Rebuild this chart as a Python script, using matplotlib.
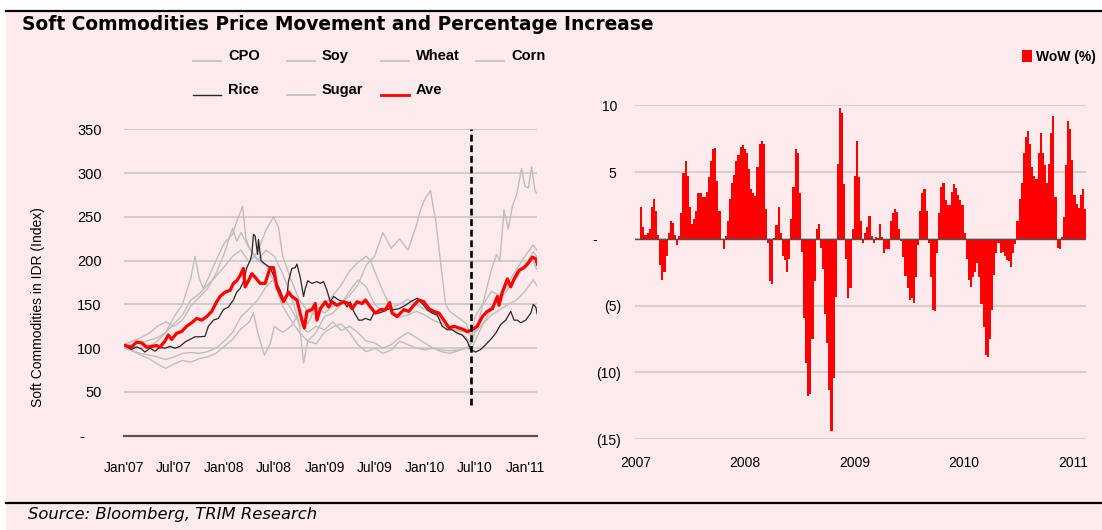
import numpy as np
import pandas as pd
import matplotlib
matplotlib.use('Agg')
import matplotlib.pyplot as plt
from matplotlib.lines import Line2D
from matplotlib.patches import Rectangle

W, H = 1102, 530
PINK = '#FDEBEB'
GREY = '#BEBEBE'
SANS = ['Liberation Sans', 'DejaVu Sans']

# ---- left chart: index levels (month offset from Jan 2007, value) ----
ave_m = [0.16, 0.9, 1.5, 2.1, 2.7, 3.3, 3.9, 4.3, 4.9, 5.3, 5.7, 6.3, 6.9, 7.5, 8.1, 8.7, 9.3, 9.9,
         10.5, 11.1, 11.5, 12.1, 12.7, 13.1, 13.5, 13.9, 14.3, 14.5, 14.9, 15.3, 15.7, 16.3, 16.9,
         17.5, 17.9, 18.3, 19.1, 19.7, 20.1, 20.7, 21.3, 21.6, 21.9, 22.5, 22.9, 23.1, 23.5, 24.1,
         24.5, 24.9, 25.5, 26.3, 26.9, 27.3, 27.9, 28.5, 28.9, 29.5, 30.1, 30.7, 31.3, 31.8, 32.1,
         32.7, 33.5, 34.1, 34.7, 35.3, 35.9, 36.5, 37.1, 37.7, 38.3, 38.9, 39.5, 40.1, 40.7, 41.1,
         41.7, 42.3, 42.9, 43.5, 44.1, 44.7, 44.9, 45.3, 45.9, 46.3, 46.7, 47.3, 47.9, 48.3, 48.9,
         49.3, 49.5]
ave_v = [103, 101, 107, 106, 101, 102, 103, 101, 108, 115, 110, 117, 119, 125, 129, 134, 132, 136,
         142, 153, 159, 164, 166, 174, 177, 183, 191, 170, 177, 185, 181, 174, 174,
         192, 192, 170, 153, 164, 159, 155, 132, 123, 142, 144, 151, 132, 145, 153,
         147, 153, 149, 153, 151, 145, 153, 151, 155, 147, 140, 144, 144, 152, 140,
         136, 144, 142, 149, 155, 153, 145, 142, 140, 132, 123, 125, 123, 121, 119,
         121, 125, 136, 142, 145, 159, 149, 164, 179, 170, 179, 189, 192, 196, 204,
         202, 196]

rice_m = [0.2, 0.9, 1.5, 2.1, 2.5, 3.1, 3.7, 4.3, 4.9, 5.5, 6.1, 6.7, 7.3, 7.9, 8.5, 9.1, 9.7, 10.1,
          10.7, 11.3, 11.9, 12.5, 13.1, 13.5, 13.9, 14.3, 14.7, 15.1, 15.3, 15.5, 15.7, 16.0, 16.1,
          16.4, 16.9, 17.5, 17.9, 18.3, 18.7, 19.1, 19.5, 19.7, 20.1, 20.5, 20.7, 21.1, 21.5, 21.7,
          22.0, 22.5, 23.1, 23.5, 23.9, 24.3, 24.7, 25.1, 25.7, 26.3, 26.7, 27.1, 27.5, 28.1, 28.5,
          28.9, 29.5, 29.9, 30.5, 31.1, 31.7, 32.3, 32.9, 33.7, 34.3, 35.1, 35.7, 36.3, 36.9, 37.5,
          38.1, 38.7, 39.3, 39.9, 40.5, 41.1, 41.5, 42.1, 42.7, 43.3, 43.9, 44.5, 45.1, 45.7, 46.3,
          46.7, 47.1, 47.5, 48.1, 48.7, 49.0, 49.3, 49.5]
rice_v = [102, 98.5, 101.5, 99, 95.5, 100, 96.6, 101, 100, 102, 100, 102, 107, 110, 113, 113, 113.5, 125,
          132, 134, 144, 147, 155, 164, 168, 176, 192, 200, 207, 230, 228, 207, 224,
          200, 196, 192, 183, 174, 166, 155, 159, 177, 191, 192, 196, 181, 159, 168,
          177, 174, 176, 174, 176, 166, 153, 159, 155, 153, 147, 153, 142, 132, 132,
          134, 132, 140, 140, 142, 145, 144, 145, 149, 153, 157, 151, 144, 140, 138,
          125, 121, 121, 117, 115, 108, 98.5, 95.5, 98.5, 104, 110, 117, 127, 132, 142,
          132, 132, 129, 132, 140, 150, 147, 138]

cpo_m = [0, 1, 2, 3, 4, 5, 6, 7, 8, 9, 10, 11, 12, 13, 13.5, 14, 15, 16, 17, 18, 19, 20, 21, 21.5,
         22, 23, 24, 25, 26, 27, 28, 29, 30, 31, 32, 33, 34, 35, 36, 37, 38, 39, 40, 41, 41.6, 42,
         43, 44, 45, 46, 47, 48, 49, 49.4]
cpo_v = [104, 108, 112, 117, 125, 130, 125, 132, 148, 158, 168, 185, 208, 237, 222, 232, 214, 200,
         212, 205, 185, 160, 128, 83, 108, 118, 136, 140, 150, 165, 178, 170, 150, 142, 146, 150,
         156, 150, 144, 140, 132, 125, 118, 112, 106, 118, 128, 145, 160, 175, 190, 205, 218, 212]

soy_m = [0, 1, 2, 3, 4, 5, 6, 7, 8, 9, 10, 11, 12, 13, 14, 15, 16, 17, 17.9, 18.5, 19, 20, 21, 22,
         23, 24, 25, 26, 27, 28, 29, 29.5, 30, 31, 32, 33, 34, 35, 36, 37, 38, 39, 40, 41, 41.6,
         42, 43, 44, 45, 46, 47, 48, 49, 49.4]
soy_v = [102, 104, 106, 109, 112, 118, 128, 138, 155, 162, 172, 182, 193, 205, 212, 198, 210, 235,
         250, 238, 205, 178, 155, 142, 138, 150, 160, 172, 188, 198, 205, 200, 188, 165, 145, 135,
         138, 142, 138, 132, 128, 122, 120, 118, 115, 125, 138, 148, 155, 168, 180, 195, 210, 205]

wheat_m = [0, 1, 2, 3, 4, 5, 6, 7, 8, 8.5, 9, 9.5, 10, 11, 12, 13, 13.5, 14.2, 14.6, 15, 16, 17,
           18, 19, 20, 21, 22, 23, 24, 25, 26, 27, 28, 29, 30, 31, 32, 33, 34, 35, 36, 37, 38, 39,
           40, 41, 41.6, 42, 43, 44, 45, 46, 47, 48, 49, 49.4]
wheat_v = [100, 104, 108, 102, 108, 118, 136, 150, 180, 205, 180, 168, 178, 200, 220, 230, 245, 262,
           225, 215, 200, 195, 175, 160, 145, 128, 118, 125, 121, 130, 120, 125, 118, 108, 106, 100,
           104, 112, 118, 112, 106, 100, 98, 97, 98, 100, 106, 118, 150, 165, 160, 172, 180, 197,
           200, 190]

corn_m = [0, 1, 2, 3, 4, 5, 6, 7, 8, 9, 10, 11, 12, 13, 14, 15, 16, 17, 18, 18.5, 19, 20, 21, 22,
          23, 24, 25, 26, 27, 28, 29, 30, 31, 32, 33, 34, 35, 36, 37, 38, 39, 40, 41, 41.6, 42, 43,
          44, 45, 46, 47, 48, 49, 49.4]
corn_v = [100, 97, 94, 92, 90, 87, 90, 94, 95, 94, 96, 100, 108, 118, 136, 145, 155, 170, 180, 160,
          148, 132, 118, 108, 105, 118, 124, 128, 118, 104, 96, 100, 94, 98, 108, 104, 100, 98, 100,
          96, 94, 97, 100, 98, 108, 128, 138, 144, 150, 155, 165, 178, 172]

sugar_m = [0, 1, 2, 3, 4, 5, 6, 7, 8, 9, 10, 11, 12, 13, 14, 15, 15.5, 16, 16.8, 17.5, 18, 19, 20,
           21, 22, 23, 24, 25, 26, 27, 28, 29, 30, 31, 32, 33, 34, 35, 35.5, 36, 36.7, 37, 37.3, 38,
           38.5, 39, 40, 41, 41.6, 42, 43, 44, 44.6, 45, 45.5, 46, 46.5, 47, 47.6, 48, 48.4, 48.8,
           49.2, 49.4]
sugar_v = [101, 97, 92, 88, 82, 77, 82, 86, 84, 88, 90, 94, 102, 110, 122, 130, 140, 118, 92, 105,
           125, 118, 125, 140, 128, 148, 140, 148, 152, 160, 172, 195, 205, 232, 214, 225, 212, 240,
           258, 270, 280, 262, 248, 190, 150, 142, 135, 128, 112, 135, 152, 190, 207, 200, 258, 236,
           262, 275, 305, 285, 283, 307, 280, 277]

dash_m = 41.55
left_ticks = ["Jan'07", "Jul'07", "Jan'08", "Jul'08", "Jan'09", "Jul'09", "Jan'10", "Jul'10", "Jan'11"]

# ---- right chart: week on week change (%) ----
wow = [2.4, 0.9, 0.25, 0.45, 0.75, 2.4, 3.0, 2.1, 0.3, -2.0, -3.1, -2.5, -1.3, 0.4, 1.35, 1.2, 0.3,
       -0.5, 0.2, 1.95, 4.95, 5.85, 4.7, 2.4, 1.1, 1.5, 2.1, 3.4, 3.45, 3.1, 3.1, 3.5, 4.6, 5.8, 6.75,
       6.8, 4.35, 2.1, -0.1, -0.8, 0.2, 1.3, 3.0, 4.2, 4.8, 5.85, 6.3, 6.9, 7.05, 6.7, 6.4, 5.2,
       3.7, 3.4, 3.2, 5.4, 7.1, 7.3, 7.1, 2.2, -0.3, -3.2, -3.4, 0.05, 1.05, 2.4, 0.45, -1.3, -1.6,
       -2.5, -1.5, 1.5, 3.9, 6.75, 6.4, 3.45, -1.0, -5.9, -9.3, -11.8, -11.6, -7.5, -3.2, 0.7, 1.1,
       -0.7, -2.3, -5.6, -7.8, -11.3, -14.4, -10.4, -4.35, 5.6, 9.8, 9.45, 4.1, -1.5, -4.4, -3.7,
       0.75, 4.7, 7.3, 4.65, 1.3, -0.3,
       0.4, 0.9, 1.7, 0.2, -0.3, 0.1, 0.05, 1.1, 0.1, -1.05, -0.8, -0.75, 1.35, 1.95, 2.2, 2.0, 0.7,
       -0.15, -1.4, -2.8, -3.7, -4.6, -4.4, -4.8, -2.9, -0.5, 2.1, 3.45, 3.7, 2.1, -0.3, -2.85, -5.3,
       -5.4, -1.1, 1.95, 3.9, 4.2, 2.9, 2.5, 2.5, 3.5, 4.1, 3.8, 3.3, 2.9, 2.5, 0.4, -1.5, -3.1, -3.6,
       -2.85,
       -2.5, -1.8, -2.85, -4.9, -6.6, -8.7, -8.85, -7.5, -5.3, -2.7, -1.1, -0.3, -1.05, -1.0, -1.3,
       -1.6, -1.65, -2.1, -1.05, -0.4, 1.35, 3.0, 4.2, 6.45, 7.65, 8.1, 7.1, 5.4, 4.7, 4.5, 6.45,
       7.9, 6.4, 5.5, 4.2, 5.6, 7.9, 9.2, 3.1, -0.7, -0.75, 0.1, 1.65, 5.55, 8.8, 8.2, 5.9, 3.3, 2.6,
       2.3, 3.3, 3.7, 2.2]
wow_start, wow_end = '2007-01-19', '2011-02-11'
years = [2007, 2008, 2009, 2010, 2011]
right_yticks = [-15, -10, -5, 0, 5, 10]
right_ylabels = ['(15)', '(10)', '(5)', '-      ', '5 ', '10 ']


def to_dates(m):
    return pd.Timestamp('2007-01-01') + pd.to_timedelta(np.asarray(m, dtype=float) * 30.4375, unit='D')


fig = plt.figure(figsize=(W / 100, H / 100), dpi=100)
fig.patch.set_facecolor('white')
fig.add_artist(Rectangle((6 / W, 0), 1 - 6 / W, (H - 10) / H, transform=fig.transFigure,
                         facecolor=PINK, edgecolor='none', zorder=-10))
for yy in (10.5, 502.7):
    fig.add_artist(Line2D([5.5 / W, 1], [1 - yy / H] * 2, color='black', lw=1.6,
                          transform=fig.transFigure))

fig.text(22 / W, 1 - 24 / H, 'Soft Commodities Price Movement and Percentage Increase',
         fontsize=13.4, fontweight='bold', family='DejaVu Sans', ha='left', va='center')
fig.text(28 / W, 1 - 515 / H, 'Source: Bloomberg, TRIM Research', fontsize=11.8,
         style='italic', family='DejaVu Sans', ha='left', va='center')

# ---------------- left chart ----------------
ax1 = fig.add_axes([124 / W, (H - 435.7) / H, 413 / W, 306.4 / H])
ax1.set_facecolor('none')
greys = [(cpo_m, cpo_v), (soy_m, soy_v), (wheat_m, wheat_v), (corn_m, corn_v), (sugar_m, sugar_v)]
for mm, vv in greys:
    ax1.plot(to_dates(mm), vv, color=GREY, lw=1.0, zorder=2)
ax1.plot(to_dates(rice_m), rice_v, color='#262626', lw=0.9, zorder=3)
ax1.plot(to_dates(ave_m), ave_v, color='#FF0000', lw=2.3, zorder=4)
ax1.vlines(to_dates([dash_m])[0], 35, 350, colors='black', lw=1.9,
           linestyles=(0, (2.6, 1.4)), zorder=5)
ax1.axhline(0, color='#555555', lw=1.6, zorder=3, clip_on=False)

ax1.set_ylim(0, 350)
ax1.set_xlim(pd.Timestamp('2007-01-01'), pd.Timestamp('2011-02-14'))
ax1.set_yticks(range(0, 351, 50))
ax1.set_yticklabels(['-    '] + [str(v) for v in range(50, 351, 50)])
ax1.set_xticks([pd.Timestamp(f'{2007 + i // 2}-{1 + 6 * (i % 2):02d}-01') for i in range(9)])
ax1.set_xticklabels(left_ticks)
ax1.yaxis.grid(True, color='#C4C4C4', lw=1.1)
ax1.set_axisbelow(True)
for s in ax1.spines.values():
    s.set_visible(False)
ax1.tick_params(axis='y', length=0, pad=16, labelsize=10.5)
ax1.tick_params(axis='x', length=0, pad=18, labelsize=10)
for lab in ax1.get_xticklabels() + ax1.get_yticklabels():
    lab.set_family(SANS)

fig.text(38 / W, 1 - 307 / H, 'Soft Commodities in IDR (Index)', rotation=90,
         fontsize=10, family=SANS, ha='center', va='center')

# manual legend, two rows
leg_items = [('CPO', GREY, 1.2), ('Soy', GREY, 1.2), ('Wheat', GREY, 1.2), ('Corn', GREY, 1.2),
             ('Rice', '#262626', 1.0), ('Sugar', GREY, 1.2), ('Ave', '#FF0000', 2.0)]
cols_x = [193, 287, 381, 476]
rows_y = [56, 90]
for i, (name, col, lw) in enumerate(leg_items):
    x0 = cols_x[i % 4]
    y0 = rows_y[i // 4]
    fig.add_artist(Line2D([x0 / W, (x0 + 28) / W], [1 - (y0 + 5) / H] * 2, color=col, lw=lw,
                          transform=fig.transFigure))
    fig.text((x0 + 35) / W, 1 - y0 / H, name, fontsize=10.5, fontweight='bold', family=SANS,
             ha='left', va='center')

# ---------------- right chart ----------------
ax2 = fig.add_axes([635 / W, (H - 439) / H, 451 / W, 333.7 / H])
ax2.set_facecolor('none')
bar_dates = pd.date_range(wow_start, wow_end, periods=len(wow))
step = (bar_dates[1] - bar_dates[0]).total_seconds() / 86400
bars = ax2.bar(bar_dates, wow, width=step, color='#FF0000', lw=0, zorder=3, label='WoW (%)')
ax2.axhline(0, color='#505050', lw=1.0, zorder=4)
ax2.set_ylim(-15, 10)
ax2.set_xlim(pd.Timestamp('2006-12-29'), pd.Timestamp('2011-02-14'))
ax2.set_yticks(right_yticks)
ax2.set_yticklabels(right_ylabels)
ax2.set_xticks([pd.Timestamp(f'{y}-01-01') for y in years])
ax2.set_xticklabels([str(y) for y in years])
ax2.yaxis.grid(True, color='#C8C8C8', lw=1.1)
ax2.set_axisbelow(True)
for s in ax2.spines.values():
    s.set_visible(False)
ax2.tick_params(axis='y', length=0, pad=10, labelsize=10)
ax2.tick_params(axis='x', length=0, pad=12, labelsize=10)
for lab in ax2.get_xticklabels() + ax2.get_yticklabels():
    lab.set_family(SANS)

fig.legend(handles=[bars], labels=['WoW (%)'], loc='upper right',
           bbox_to_anchor=(1096 / W, 1 - 50 / H), frameon=False, handlelength=0.75,
           handleheight=1.0, handletextpad=0.3, borderpad=0, borderaxespad=0,
           prop={'family': SANS, 'weight': 'bold', 'size': 10})

fig.savefig('out.png', dpi=100, facecolor=fig.get_facecolor())
